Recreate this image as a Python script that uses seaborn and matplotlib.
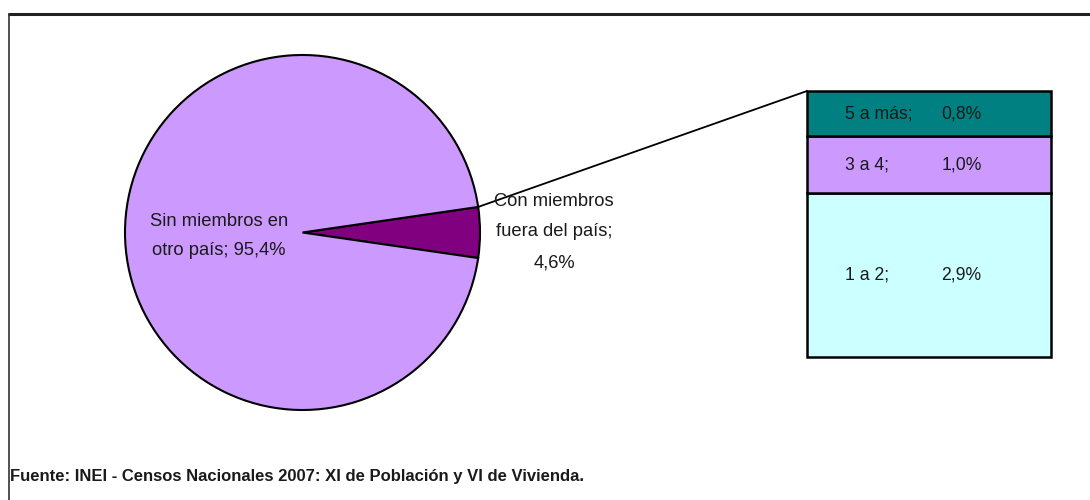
import numpy as np
import matplotlib
matplotlib.use("Agg")
import matplotlib.pyplot as plt
import matplotlib.transforms as mtransforms
from matplotlib.lines import Line2D
from matplotlib.patches import ConnectionPatch
import seaborn as sns

# pie: households with / without members abroad
pie_labels = ["Con miembros\nfuera del país", "Sin miembros en\notro país"]
pie_values = [4.6, 95.4]
pie_colors = ["#800080", "#CC99FF"]

# breakdown bar (bottom to top)
bar_labels = ["1 a 2", "3 a 4", "5 a más"]
bar_values = [2.9, 1.0, 0.8]
bar_colors = ["#CCFFFF", "#CC99FF", "#008080"]

source = "Fuente: INEI - Censos Nacionales 2007: XI de Población y VI de Vivienda."

sns.set_style("white")
plt.rcParams["font.family"] = ["Liberation Sans", "DejaVu Sans"]


def pct(v):
    return f"{v:.1f}%".replace(".", ",")


W, H = 1090, 500
fig = plt.figure(figsize=(W / 100, H / 100), dpi=100)

# pie axes (square in pixels)
cx, cy, r = 302.5, 232.5, 177.5
ax_pie = fig.add_axes([(cx - r) / W, (H - cy - r) / H, 2 * r / W, 2 * r / H])
start = -pie_values[0] / sum(pie_values) * 360 / 2
wedges, _ = ax_pie.pie(pie_values, colors=pie_colors, startangle=start, radius=1,
                       wedgeprops={"edgecolor": "black", "linewidth": 1.5})
ax_pie.set_xlim(-1, 1)
ax_pie.set_ylim(-1, 1)
for w in wedges:
    w.set_clip_on(False)

# bar axes
bx0, bx1, by0, by1 = 807, 1051, 91, 357
ax_bar = fig.add_axes([bx0 / W, (H - by1) / H, (bx1 - bx0) / W, (by1 - by0) / H])
bottom = 0
trans = mtransforms.blended_transform_factory(ax_bar.transAxes, ax_bar.transData)
for lab, val, col in zip(bar_labels, bar_values, bar_colors):
    ax_bar.bar(0, val, bottom=bottom, width=1, color=col, edgecolor="black",
               linewidth=1.8, clip_on=False)
    mid = bottom + val / 2
    ax_bar.text(0.155, mid, f"{lab};", transform=trans, ha="left", va="center",
                fontsize=12.7, color="#1a1a1a")
    ax_bar.text(0.55, mid, pct(val), transform=trans, ha="left", va="center",
                fontsize=12.7, color="#1a1a1a")
    bottom += val
ax_bar.set_xlim(-0.5, 0.5)
ax_bar.set_ylim(0, sum(bar_values))
ax_bar.axis("off")

# connector from the slice edge to the top of the bar
theta = np.deg2rad(wedges[0].theta2)
con = ConnectionPatch(xyA=(np.cos(theta), np.sin(theta)), coordsA=ax_pie.transData,
                      xyB=(-0.5, sum(bar_values)), coordsB=ax_bar.transData,
                      color="black", linewidth=1.3)
fig.add_artist(con)

# pie labels
fig.text(219 / W, 1 - 236 / H, f"{pie_labels[1]}; {pct(pie_values[1])}",
         ha="center", va="center", fontsize=13.2, linespacing=1.9, color="#1a1a1a")
fig.text(554 / W, 1 - 232 / H, f"{pie_labels[0]};\n{pct(pie_values[0])}",
         ha="center", va="center", fontsize=13.2, linespacing=2.05, color="#1a1a1a")

# source note
fig.text(10 / W, 1 - 477 / H, source, ha="left", va="center", fontsize=12,
         fontweight="bold", color="#1a1a1a")

# frame around the chart area
fig.add_artist(Line2D([8.5 / W, 1], [1 - 14 / H, 1 - 14 / H], color="#222222",
                      linewidth=2.2, transform=fig.transFigure))
fig.add_artist(Line2D([8.5 / W, 8.5 / W], [0, 1 - 14 / H], color="#333333",
                      linewidth=1.2, transform=fig.transFigure))

fig.savefig("out.png", dpi=100)
plt.close()
